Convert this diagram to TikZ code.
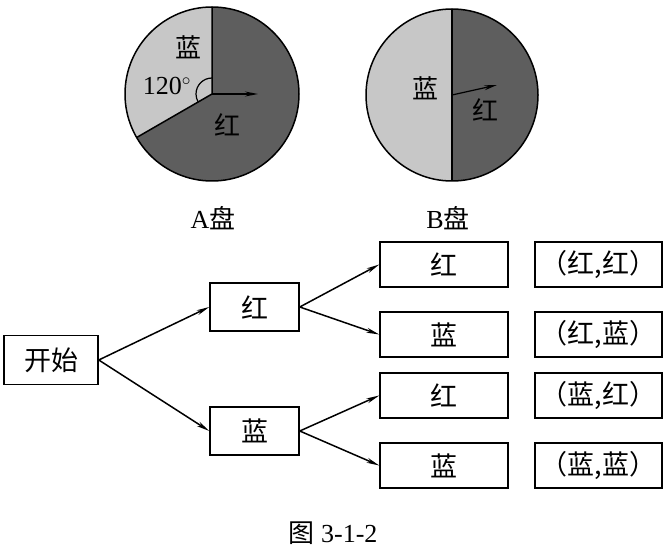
\documentclass[tikz,border=0pt]{standalone}
\usepackage{fontspec}
\setmainfont{Liberation Serif}
\newfontfamily\cjk{Noto Sans CJK SC}
\usetikzlibrary{arrows.meta}

\definecolor{lanse}{gray}{0.78}
\definecolor{hongse}{gray}{0.37}

\begin{document}
\begin{tikzpicture}[x=1pt,y=1pt,line width=1.5pt,
  lbl/.style={font=\cjk\fontsize{26}{26}\selectfont},
  box/.style={draw,inner sep=0pt,font=\cjk\fontsize{27}{27}\selectfont},
  arr/.style={-{Stealth[length=13pt,width=5pt]}}]
 \useasboundingbox (0,0) rectangle (669,-548);
 % disc A
 \begin{scope}[shift={(212,-94)}]
  \fill[hongse] (0,0) circle[radius=87];
  \fill[lanse] (0,0) -- (90:87) arc[start angle=90,end angle=210,radius=87] -- cycle;
  \draw (0,0) circle[radius=87];
  \draw (90:87) -- (0,0) -- (210:87);
  \draw[line width=1.2pt] (90:16) arc[start angle=90,end angle=210,radius=16];
  \draw[line width=1.2pt,arr] (0,0) -- (46,0);
  \draw (-24,47) node[lbl] {蓝};
  \draw (-45,8) node[font=\fontsize{26}{26}\selectfont] {120$^\circ$};
  \draw (15,-31) node[lbl] {红};
  \draw (1,-124) node[lbl] {{\rmfamily A}盘};
 \end{scope}
 % disc B
 \begin{scope}[shift={(452,-95)}]
  \fill[hongse] (0,0) circle[radius=86];
  \fill[lanse] (0,0) -- (90:86) arc[start angle=90,end angle=270,radius=86] -- cycle;
  \draw (0,0) circle[radius=86];
  \draw (90:86) -- (270:86);
  \draw[line width=1.2pt,arr] (0,0) -- (45,10);
  \draw (-27,7) node[lbl] {蓝};
  \draw (33,-15) node[lbl] {红};
  \draw (-4,-123) node[lbl] {{\rmfamily B}盘};
 \end{scope}
 % tree
 \node[box,minimum width=94pt,minimum height=49pt] (start) at (51,-360) {开始};
 \node[box,minimum width=89pt,minimum height=48pt] (h) at (254.5,-307) {红};
 \node[box,minimum width=89pt,minimum height=48pt] (l) at (254.5,-431) {蓝};
 \node[box,minimum width=128pt,minimum height=45pt] (hh) at (444,-264.5) {红};
 \node[box,minimum width=128pt,minimum height=45pt] (hl) at (444,-334.5) {蓝};
 \node[box,minimum width=128pt,minimum height=45pt] (lh) at (444,-395.5) {红};
 \node[box,minimum width=128pt,minimum height=45pt] (ll) at (444,-465.5) {蓝};
 \node[box,minimum width=127pt,minimum height=45pt] (rhh) at (598.5,-264.5) {（红,红）};
 \node[box,minimum width=127pt,minimum height=45pt] (rhl) at (598.5,-334.5) {（红,蓝）};
 \node[box,minimum width=127pt,minimum height=45pt] (rlh) at (598.5,-395.5) {（蓝,红）};
 \node[box,minimum width=127pt,minimum height=45pt] (rll) at (598.5,-465.5) {（蓝,蓝）};
 \draw[arr] (start.east) -- (h.west);
 \draw[arr] (start.east) -- (l.west);
 \draw[arr] (h.east) -- (hh.west);
 \draw[arr] (h.east) -- (hl.west);
 \draw[arr] (l.east) -- (lh.west);
 \draw[arr] (l.east) -- (ll.west);
 \node[font=\fontsize{26}{26}\selectfont] (cap) at (333,-533) {{\cjk 图} 3-1-2};
\end{tikzpicture}
\end{document}
